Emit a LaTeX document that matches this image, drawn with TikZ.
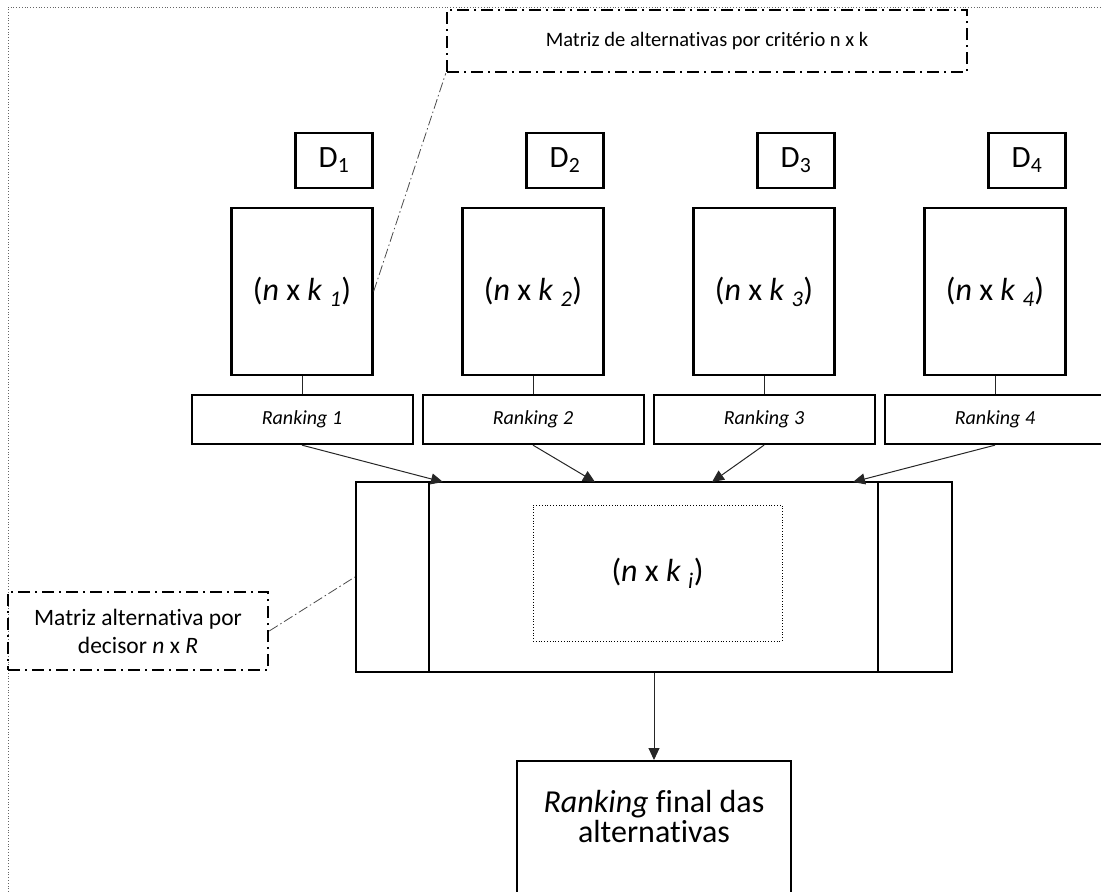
\documentclass[tikz,border=0pt]{standalone}
\usepackage{fontspec}
\setmainfont{Carlito}[Ligatures={NoCommon,NoRare}]
\usetikzlibrary{arrows.meta,positioning}
\tikzset{
	caixa/.style={draw, line width=2.3pt, inner sep=0pt, align=center},
	decisor/.style={caixa, minimum width=77, minimum height=55, font=\fontsize{31}{36}\selectfont},
	matriz/.style={caixa, minimum width=141, minimum height=167, font=\fontsize{32}{37}\selectfont},
	ranking/.style={caixa, line width=2pt, minimum width=221, minimum height=49, font=\fontsize{20}{24}\selectfont\itshape},
	nota/.style={draw, line width=2.5pt, dash pattern=on 12pt off 5pt on 2pt off 5pt, inner sep=0pt, align=center},
	traco/.style={draw=black!70, line width=0.8pt, dash pattern=on 10pt off 3pt on 1.5pt off 3pt},
	liga/.style={draw=black!85, line width=1pt},
	seta/.style={liga, -{Triangle[length=12pt,width=11pt]}}
}
\begin{document}
\begin{tikzpicture}[x=1pt, y=-1pt]
		\clip (0, 0) rectangle (1101, 892);
		\draw[black!60, dotted, line width=0.8pt] (8, 920) to (8, 7) to (1120, 7);

		\node[nota, minimum width=520, minimum height=62, font=\fontsize{20.5}{25}\selectfont] (topo) at (707, 41) {Matriz de alternativas por critério n x k};
		\node[nota, minimum width=260, minimum height=78, font=\fontsize{23.5}{28}\selectfont] (lado) at (138, 631) {Matriz alternativa por\\decisor \textit{n} x \textit{R}};

		\foreach \i/\x in {1/302, 2/533, 3/764, 4/995} {
			\node[matriz] (m\i) at (\x, 291.5) {(\textit{n} x \textit{k} \textsubscript{\textit{\i}})};
			\node[decisor, above left=18pt and 0pt of m\i.north east] (d\i) {D\textsubscript{\i}};
			\node[ranking, below=18pt of m\i] (r\i) {Ranking \i};
			\draw[liga] (m\i) to (r\i);
		}

		\node[caixa, minimum width=596, minimum height=190] (meio) at (654, 577) {};
		\draw[caixa] ([xshift=74pt]meio.north west) to ([xshift=74pt]meio.south west);
		\draw[caixa] ([xshift=-75pt]meio.north east) to ([xshift=-75pt]meio.south east);
		\node[draw, dotted, line width=0.8pt, minimum width=249, minimum height=136, font=\fontsize{32}{37}\selectfont] (mi) at (657.5, 573) {(\textit{n} x \textit{k} \textsubscript{\textit{i}})};

		\coordinate (e1) at (443, 482);
		\coordinate (e2) at (595, 482);
		\coordinate (e3) at (712, 482);
		\coordinate (e4) at (853, 482);
		\foreach \i in {1, ..., 4}
			\draw[seta] (r\i.south) to (e\i);

		\node[caixa, anchor=north, minimum width=274, inner ysep=29pt, text depth=70pt, font=\fontsize{32}{30}\selectfont] (final) at (654, 760) {\textit{Ranking} final das\\alternativas};
		\draw[seta] (meio) to (final);

		\draw[traco] (m1.east) to (topo.south west);
		\draw[traco] (lado.east) to (meio.west);
\end{tikzpicture}
\end{document}
